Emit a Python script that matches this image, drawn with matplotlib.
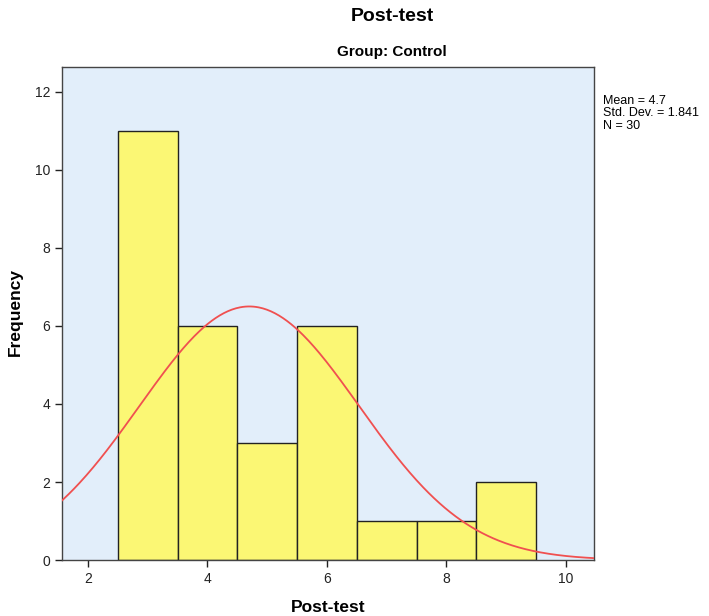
import numpy as np
import matplotlib.pyplot as plt
from matplotlib import font_manager

# histogram data (bin centres and counts), from the picture
bin_centres = [3, 4, 5, 6, 7, 8, 9]
counts = [11, 6, 3, 6, 1, 1, 2]
mean = 4.7
std_dev = 1.841
n = 30

names = {f.name for f in font_manager.fontManager.ttflist}
family = 'Liberation Sans Narrow' if 'Liberation Sans Narrow' in names else 'Liberation Sans'
plt.rcParams['font.family'] = [family, 'DejaVu Sans']

fig = plt.figure(figsize=(7.09, 6.16), dpi=100)
ax = fig.add_axes([0.0874, 0.0909, 0.7504, 0.8003])
ax.set_facecolor('#E2EEFA')

ax.bar(bin_centres, counts, width=1.0, color='#FBF774', edgecolor='#222222', linewidth=1.0, zorder=2)

xs = np.linspace(1.5, 10.5, 400)
binw = 1.0
ys = n * binw / (std_dev * np.sqrt(2 * np.pi)) * np.exp(-0.5 * ((xs - mean) / std_dev) ** 2)
ax.plot(xs, ys, color='#F05050', linewidth=1.3, zorder=3)

ax.set_xlim(1.565, 10.47)
ax.set_ylim(0, 12.64)
ax.set_xticks([2, 4, 6, 8, 10])
ax.set_yticks([0, 2, 4, 6, 8, 10, 12])
ax.tick_params(direction='out', length=5, width=1, colors='#222222', labelsize=10)
for s in ax.spines.values():
    s.set_color('#444444')
    s.set_linewidth(1)

fig.text(0.463, 0.014, 'Post-test', ha='center', va='center', fontsize=12.5, fontweight='bold')
fig.text(0.021, 0.493, 'Frequency', ha='center', va='center', rotation=90, fontsize=12.5, fontweight='bold')

fig.text(0.553, 0.974, 'Post-test', ha='center', va='center', fontsize=14, fontweight='bold')
fig.text(0.553, 0.916, 'Group: Control', ha='center', va='center', fontsize=11, fontweight='bold')

fig.text(0.850, 0.846, 'Mean = %s\nStd. Dev. = %s\nN = %d' % (mean, std_dev, n),
         ha='left', va='top', fontsize=9, linespacing=1.05)

fig.savefig('out.png', dpi=100)
